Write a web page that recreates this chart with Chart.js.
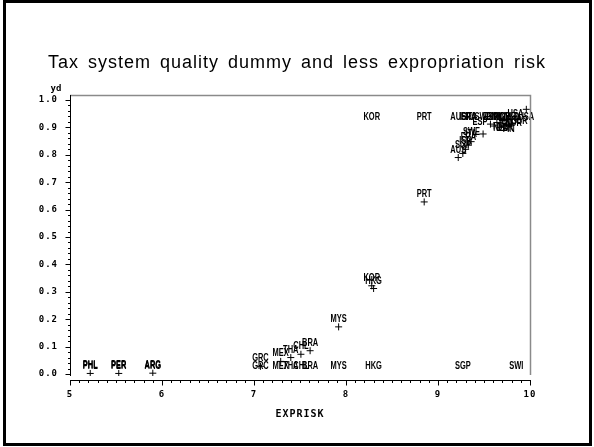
<!DOCTYPE html>
<html>
<head>
<meta charset="utf-8">
<title>Tax system quality dummy and less expropriation risk</title>
<script src="https://cdn.jsdelivr.net/npm/chart.js@4/dist/chart.umd.min.js"></script>
<style>
html, body { margin: 0; padding: 0; background: #fff; }
#wrap { width: 594px; height: 447px; }
</style>
</head>
<body>
<div id="wrap"><canvas id="chart" width="594" height="447"></canvas></div>
<script>
// ================= DATA =================

const countries = [
    "PHL", "PER", "ARG", "GRC", "MEX", "THA", "CHL", "BRA", "MYS",
    "KOR", "HKG", "PRT", "AUS", "SGP", "ISR", "FRA", "ITA", "SWE",
    "ESP", "DNK", "IRL", "FIN", "NOR", "GBR", "NLD", "SWI", "USA"
];

const exprisk = [
    5.22, 5.53, 5.90, 7.07, 7.29, 7.40, 7.51, 7.61, 7.92,
    8.28, 8.30, 8.85, 9.22, 9.27, 9.30, 9.33, 9.36, 9.49,
    9.57, 9.61, 9.64, 9.67, 9.70, 9.76, 9.80, 9.85, 9.96
];

// observed dummy
const ydObserved = [
    0, 0, 0, 0, 0, 0, 0, 0, 0,
    1, 0, 1, 1, 0, 1, 1, 1, 1,
    1, 1, 1, 1, 1, 1, 1, 0, 1
];

// predicted values (+ markers)
const ydFitted = [
    0.002, 0.002, 0.003, 0.028, 0.046, 0.060, 0.072, 0.085, 0.172,
    0.322, 0.312, 0.628, 0.790, 0.805, 0.820, 0.835, 0.848, 0.876,
    0.912, 0.905, 0.918, 0.900, 0.925, 0.930, 0.915, 0.930, 0.966
];

const xTicks = [5, 6, 7, 8, 9, 10];
const yTicks = [0, 0.1, 0.2, 0.3, 0.4, 0.5, 0.6, 0.7, 0.8, 0.9, 1.0];

const tickFont = { family: "DejaVu Sans Mono", size: 9, weight: "bold" };

// ================= FRAME / AXES PLUGIN =================

const sasFrame = {
    id: "sasFrame",
    beforeDraw(chart) {
        chart.ctx.letterSpacing = "1px";
        chart.ctx.wordSpacing = "3px";
    },
    afterDraw(chart) {
        const ctx = chart.ctx;
        const a = chart.chartArea;
        const xs = chart.scales.x;
        const ys = chart.scales.y;

        ctx.save();
        ctx.letterSpacing = "0px";
        ctx.wordSpacing = "0px";

        // outer border
        ctx.strokeStyle = "#000";
        ctx.lineWidth = 3;
        ctx.strokeRect(4.5, 1.5, 586, 443);

        // top and right frame
        ctx.strokeStyle = "#8a8a8a";
        ctx.lineWidth = 1.5;
        ctx.beginPath();
        ctx.moveTo(a.left, a.top + 0.5);
        ctx.lineTo(a.right + 0.5, a.top + 0.5);
        ctx.lineTo(a.right + 0.5, a.bottom - 1);
        ctx.stroke();

        ctx.strokeStyle = "#000";
        ctx.lineWidth = 1;

        // y axis
        const yx = a.left + 0.5;
        ctx.beginPath();
        ctx.moveTo(yx, a.top);
        ctx.lineTo(yx, a.bottom);
        for (let i = 0; i <= 50; i++) {
            const py = Math.round(ys.getPixelForValue(i / 50)) + 0.5;
            const len = i % 5 === 0 ? 5 : 2.5;
            ctx.moveTo(yx, py);
            ctx.lineTo(yx - len, py);
        }
        ctx.stroke();

        // x axis
        const xy = a.bottom + 4.5;
        ctx.beginPath();
        ctx.moveTo(a.left, xy);
        ctx.lineTo(a.right + 1, xy);
        for (let i = 0; i <= 50; i++) {
            const px = Math.round(xs.getPixelForValue(5 + i / 10)) + 0.5;
            const len = i % 10 === 0 ? 5 : 2.5;
            ctx.moveTo(px, xy);
            ctx.lineTo(px, xy + len);
        }
        ctx.stroke();

        // y label
        ctx.fillStyle = "#000";
        ctx.font = "bold 9px 'DejaVu Sans Mono'";
        ctx.textAlign = "center";
        ctx.textBaseline = "middle";
        ctx.fillText("yd", 56, 89);

        ctx.restore();
    }
};

// ================= POINT LABELS PLUGIN =================

const pointLabels = {
    id: "pointLabels",
    afterDatasetsDraw(chart) {
        const ctx = chart.ctx;
        const a = chart.chartArea;

        ctx.save();
        ctx.letterSpacing = "0px";
        ctx.wordSpacing = "0px";
        ctx.fillStyle = "#000";
        ctx.font = "bold 11px 'Liberation Sans'";
        ctx.textBaseline = "middle";

        chart.data.datasets.forEach((ds, d) => {
            const meta = chart.getDatasetMeta(d);
            meta.data.forEach((pt, i) => {
                const v = ds.data[i];
                let lx = pt.x, ly = pt.y - 8, align = "center";

                if (ds.label === "observed") {
                    if (ly - 5 < a.top) ly = pt.y + 16.5;
                } else if (v.y > 0.895 && v.x >= 9.6 && pt.x + 20 < a.right) {
                    lx = pt.x + 3; ly = pt.y + 2; align = "left";
                } else if (v.y > 0.85) {
                    lx = pt.x - 3; ly = pt.y + (pt.x + 20 < a.right ? -2 : 5); align = "right";
                }

                ctx.save();
                ctx.translate(lx, ly);
                ctx.scale(0.68, 1);
                ctx.textAlign = align;
                ctx.fillText(countries[i], 0, 0);
                ctx.restore();
            });
        });

        ctx.restore();
    }
};

// ================= CHART =================

new Chart(document.getElementById("chart"), {

    type: "scatter",

    data: {
        datasets: [
            {
                label: "fitted",
                data: countries.map((c, i) => ({ x: exprisk[i], y: ydFitted[i] })),
                pointStyle: "cross",
                pointRadius: 3.5,
                borderColor: "#000",
                backgroundColor: "#000",
                borderWidth: 1
            },
            {
                label: "observed",
                data: countries.map((c, i) => ({ x: exprisk[i], y: ydObserved[i] })),
                pointRadius: 0
            }
        ]
    },

    options: {
        responsive: false,
        animation: false,
        events: [],
        layout: {
            padding: { top: 0, right: 0, bottom: 26, left: 0 }
        },
        plugins: {
            legend: { display: false },
            tooltip: { enabled: false },
            title: {
                display: true,
                text: "Tax system quality dummy and less expropriation risk",
                color: "#000",
                font: { family: "Liberation Sans", size: 18, weight: "normal", lineHeight: 1.2 },
                padding: { top: 52, bottom: 21.4 }
            }
        },
        scales: {
            x: {
                type: "linear",
                position: "bottom",
                min: 5,
                max: 10,
                afterBuildTicks: s => { s.ticks = xTicks.map(v => ({ value: v })); },
                afterFit: s => { s.height = 45; },
                grid: { display: false, drawTicks: false },
                border: { display: false },
                ticks: {
                    color: "#000",
                    font: tickFont,
                    padding: 13,
                    maxRotation: 0,
                    callback: v => String(v)
                },
                title: {
                    display: true,
                    text: "EXPRISK",
                    color: "#000",
                    font: { family: "DejaVu Sans Mono", size: 10, weight: "bold", lineHeight: 1.2 },
                    padding: { top: 0, bottom: 1 }
                }
            },
            y: {
                type: "linear",
                position: "left",
                min: -0.0073,
                max: 1.01825,
                afterBuildTicks: s => { s.ticks = yTicks.map(v => ({ value: v })); },
                afterFit: s => { s.width = 70; },
                grid: { display: false, drawTicks: false },
                border: { display: false },
                ticks: {
                    color: "#000",
                    font: tickFont,
                    padding: 12,
                    callback: v => v.toFixed(1)
                }
            },
            y2: {
                type: "linear",
                position: "right",
                display: true,
                grid: { display: false, drawTicks: false },
                border: { display: false },
                ticks: { display: false },
                afterFit: s => { s.width = 64; }
            }
        }
    },

    plugins: [sasFrame, pointLabels]

});
</script>
</body>
</html>
